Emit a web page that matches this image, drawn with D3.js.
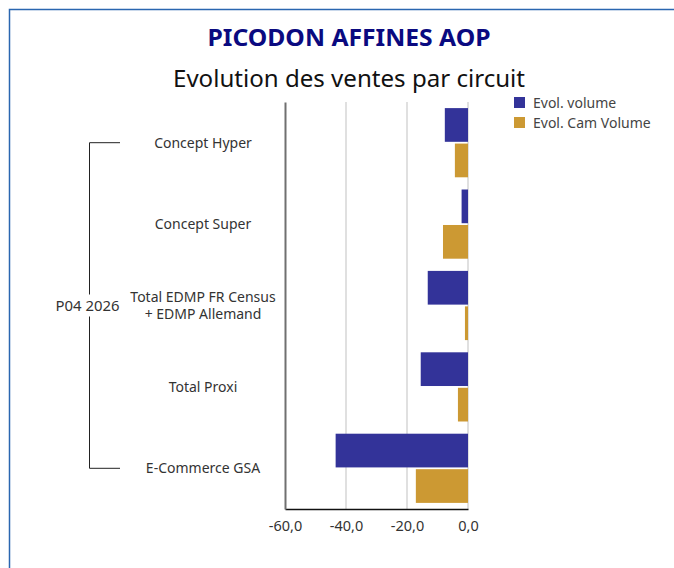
<!DOCTYPE html>
<html>
<head>
<meta charset="utf-8">
<script src="https://cdn.jsdelivr.net/npm/d3@7"></script>
<style>
  html, body { margin: 0; padding: 0; background: #fff; }
  svg { display: block; font-family: "Noto Sans", "Open Sans", sans-serif; }
</style>
</head>
<body>
<svg id="chart" width="674" height="568"></svg>
<script>
// Channel labels (multi-line where the label wraps)
const categories = [
  ["Concept Hyper"],
  ["Concept Super"],
  ["Total EDMP FR Census", "+ EDMP Allemand"],
  ["Total Proxi"],
  ["E-Commerce GSA"]
];
const seriesNames = ["Evol. volume", "Evol. Cam Volume"];
const evolVolume = [-7.6, -2.1, -13.2, -15.5, -43.4];
const evolCamVolume = [-4.3, -8.2, -1.0, -3.3, -17.1];
const tickValues = [-60, -40, -20, 0];
const periodLabel = "P04 2026";

const colors = ["#333399", "#CC9933"];

const svg = d3.select("#chart");

// Frame
svg.append("rect")
  .attr("x", 9.5).attr("y", 9.5)
  .attr("width", 700).attr("height", 600)
  .attr("fill", "none").attr("stroke", "#2a66b0").attr("stroke-width", 1.5);

// Titles
svg.append("text")
  .attr("x", 349).attr("y", 46)
  .attr("text-anchor", "middle")
  .attr("font-size", 23).attr("font-weight", "bold")
  .attr("fill", "#0a0a80")
  .attr("textLength", 283).attr("lengthAdjust", "spacingAndGlyphs")
  .text("PICODON AFFINES AOP");

svg.append("text")
  .attr("x", 349).attr("y", 87)
  .attr("text-anchor", "middle")
  .attr("font-size", 23.5)
  .attr("fill", "#111")
  .attr("textLength", 352).attr("lengthAdjust", "spacingAndGlyphs")
  .text("Evolution des ventes par circuit");

// Plot area
const plot = { left: 285, right: 468, top: 102, bottom: 509 };

const x = d3.scaleLinear().domain([-60, 0]).range([plot.left, plot.right]);
const y = d3.scaleBand()
  .domain(d3.range(categories.length))
  .range([plot.top, plot.bottom])
  .paddingInner(0.15).paddingOuter(0.075);
const ySub = d3.scaleBand()
  .domain([0, 1])
  .range([0, y.bandwidth()])
  .paddingInner(0.05);

// Gridlines
svg.append("g")
  .selectAll("line")
  .data(tickValues.slice(1))
  .join("line")
  .attr("x1", d => x(d)).attr("x2", d => x(d))
  .attr("y1", plot.top).attr("y2", plot.bottom)
  .attr("stroke", "#e0e0e0").attr("stroke-width", 2);

// Bars
const series = [evolVolume, evolCamVolume];
series.forEach((vals, si) => {
  svg.append("g")
    .selectAll("rect")
    .data(vals)
    .join("rect")
    .attr("x", d => x(Math.min(0, d)))
    .attr("width", d => Math.abs(x(d) - x(0)))
    .attr("y", (d, i) => y(i) + ySub(si))
    .attr("height", ySub.bandwidth())
    .attr("fill", colors[si]);
});

// Axes
const xAxis = svg.append("g")
  .attr("transform", `translate(0,${plot.bottom})`)
  .call(d3.axisBottom(x).tickValues(tickValues).tickSize(0).tickPadding(12)
    .tickFormat(d => d3.format(".1f")(d).replace(".", ",").replace("−", "-")));
xAxis.select(".domain").attr("stroke", "#111").attr("stroke-width", 1.5);
xAxis.selectAll("text").attr("font-size", 14.5).attr("fill", "#333")
  .attr("font-family", "'Noto Sans', sans-serif");

const yAxis = svg.append("g")
  .attr("transform", `translate(${plot.left},0)`)
  .call(d3.axisLeft(y).tickSize(0).tickFormat(""));
yAxis.select(".domain").attr("stroke", "#707070").attr("stroke-width", 2);

// Category labels
const labelX = 203;
const catG = svg.append("g");
categories.forEach((lines, i) => {
  const cy = y(i) + y.bandwidth() / 2;
  const t = catG.append("text")
    .attr("x", labelX)
    .attr("text-anchor", "middle")
    .attr("font-size", 14).attr("fill", "#333");
  const lh = 17.5;
  lines.forEach((ln, k) => {
    t.append("tspan")
      .attr("x", labelX)
      .attr("y", cy + 5 + (k - (lines.length - 1) / 2) * lh)
      .text(ln);
  });
});

// Period bracket
const firstY = y(0) + y.bandwidth() / 2;
const lastY = y(categories.length - 1) + y.bandwidth() / 2;
const midY = (firstY + lastY) / 2;
const bx = 89.5, bx2 = 120;
const br = svg.append("g").attr("stroke", "#222").attr("stroke-width", 1).attr("fill", "none");
br.append("path").attr("d", `M${bx2},${firstY}H${bx}V${midY - 11}`);
br.append("path").attr("d", `M${bx},${midY + 11}V${lastY}H${bx2}`);
svg.append("text")
  .attr("x", 87.5).attr("y", midY + 5)
  .attr("text-anchor", "middle")
  .attr("font-size", 14).attr("fill", "#333")
  .attr("textLength", 64).attr("lengthAdjust", "spacingAndGlyphs")
  .text(periodLabel);

// Legend
const legend = svg.append("g").attr("transform", "translate(514,97)");
seriesNames.forEach((name, i) => {
  const g = legend.append("g").attr("transform", `translate(0,${i * 20})`);
  g.append("rect").attr("width", 11).attr("height", 11).attr("fill", colors[i]);
  g.append("text").attr("x", 19).attr("y", 10.5)
    .attr("font-size", 14).attr("fill", "#444").text(name);
});
</script>
</body>
</html>
